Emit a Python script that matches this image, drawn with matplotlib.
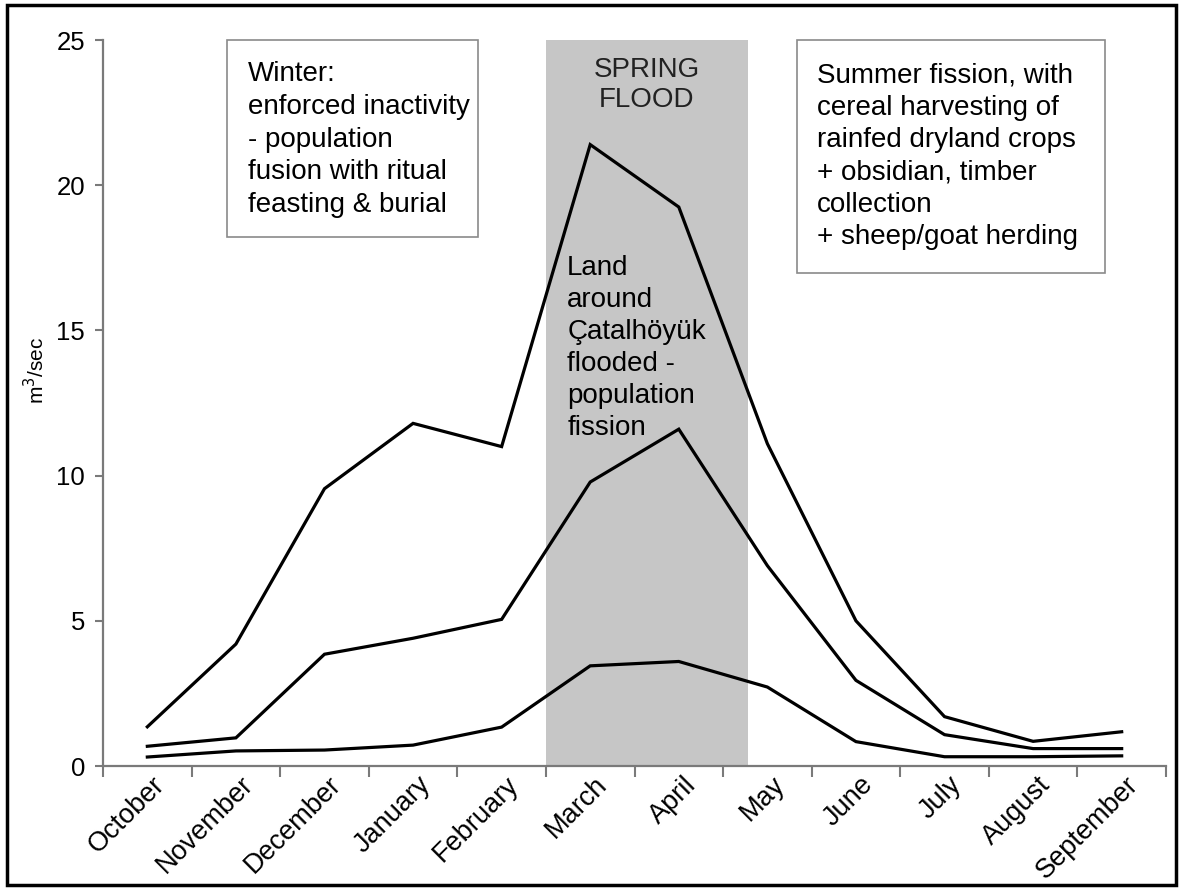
import matplotlib
matplotlib.use("Agg")
import matplotlib.pyplot as plt
from matplotlib.patches import Rectangle
import matplotlib.transforms as mtransforms
import numpy as np

plt.rcParams['font.family'] = ['Liberation Sans', 'DejaVu Sans']

months = ["October", "November", "December", "January", "February", "March",
          "April", "May", "June", "July", "August", "September"]
high_flow = [1.35, 4.2, 9.55, 11.8, 11.0, 21.4, 19.25, 11.1, 5.0, 1.7, 0.85, 1.18]
mean_flow = [0.68, 0.97, 3.85, 4.4, 5.05, 9.78, 11.6, 6.9, 2.95, 1.08, 0.6, 0.6]
low_flow = [0.31, 0.52, 0.55, 0.72, 1.34, 3.45, 3.6, 2.72, 0.84, 0.32, 0.32, 0.35]

flood_span = (4.5, 6.78)   # March .. early May

winter_text = ("Winter:\nenforced inactivity\n- population\n"
               "fusion with ritual\nfeasting & burial")
summer_text = ("Summer fission, with\ncereal harvesting of\nrainfed dryland crops\n"
               "+ obsidian, timber\ncollection\n+ sheep/goat herding")
flood_text = "Land\naround\nÇatalhöyük\nflooded -\npopulation\nfission"

fig = plt.figure(figsize=(11.83, 8.90), dpi=100)
ax = fig.add_axes([0.0871, 0.1393, 0.8985, 0.8157])

x = np.arange(len(months))
grey = "#7a7a7a"

ax.axvspan(flood_span[0], flood_span[1], color="#c6c6c6", lw=0, zorder=0)

for series in (high_flow, mean_flow, low_flow):
    ax.plot(x, series, color="black", lw=2.3, zorder=3, solid_joinstyle="miter")

ax.set_xlim(-0.5, len(months) - 0.5)
ax.set_ylim(0, 25)

# boundary ticks (major) and centred month labels (minor)
ax.set_xticks(np.arange(-0.5, len(months), 1.0))
ax.set_xticklabels([])
ax.set_xticks(x, minor=True)
ax.set_xticklabels(months, minor=True, rotation=45, ha="right",
                   rotation_mode="anchor", fontsize=19.5)
ax.tick_params(axis="x", which="minor", length=0, pad=4)
ax.tick_params(axis="x", which="major", length=8, width=1.5, color=grey)
shift = mtransforms.ScaledTranslation(4 / 100, 0, fig.dpi_scale_trans)
for lab in ax.get_xticklabels(minor=True):
    lab.set_transform(lab.get_transform() + shift)

ax.set_yticks([0, 5, 10, 15, 20, 25])
ax.tick_params(axis="y", length=6, width=1.5, color=grey, pad=7, labelsize=18.5)
ax.set_ylabel("m$^3$/sec", fontsize=15)
ax.yaxis.set_label_coords(-0.052, 0.545)

for side in ("top", "right"):
    ax.spines[side].set_visible(False)
for side in ("left", "bottom"):
    ax.spines[side].set_color(grey)
    ax.spines[side].set_linewidth(1.6)

# text boxes
ax.add_patch(Rectangle((0.90, 18.22), 2.83, 6.78, fill=False, ec="#8a8a8a", lw=1.2,
                       clip_on=False, zorder=4))
ax.add_patch(Rectangle((7.33, 16.98), 3.48, 8.02, fill=False, ec="#8a8a8a", lw=1.2,
                       clip_on=False, zorder=4))
ax.text(1.14, 21.57, winter_text, fontsize=20, va="center", ha="left", linespacing=1.34)
ax.text(7.56, 21.0, summer_text, fontsize=20, va="center", ha="left", linespacing=1.32)
ax.text(4.74, 14.4, flood_text, fontsize=20, va="center", ha="left", linespacing=1.3)
ax.text(5.64, 23.45, "SPRING\nFLOOD", fontsize=20, va="center", ha="center",
        linespacing=1.22, color="#222222")

# outer frame
fig.patches.append(Rectangle((0.006, 0.006), 0.988, 0.988, transform=fig.transFigure,
                             fill=False, ec="black", lw=2.5))

fig.savefig("out.png", dpi=100)
